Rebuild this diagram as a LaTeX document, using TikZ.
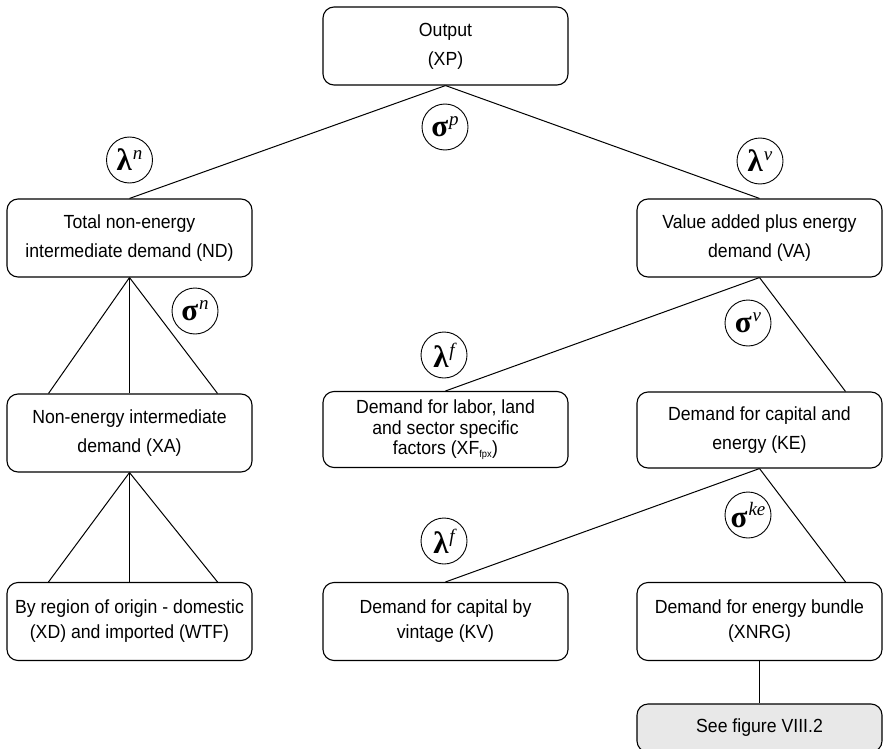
\documentclass[tikz,border=0pt]{standalone}
\usepackage{amsmath}
\usepackage{fontspec}
\setmainfont{Liberation Sans}[FakeStretch=0.93]
\newfontfamily\greekfont{Liberation Serif}
\newcommand{\elasticity}[2]{{\bfseries #1}\kern1pt\raisebox{0.36em}{\fontsize{19}{19}\selectfont\itshape #2}}
\usetikzlibrary{calc}

\begin{document}
\begin{tikzpicture}[x=1pt, y=-1pt,
        box/.style={draw, line width=1.1pt, rounded corners=11pt,
            minimum width=245pt, minimum height=78pt, inner sep=0pt,
            align=center, font=\fontsize{19}{29}\selectfont},
        elas/.style={draw, circle, line width=0.9pt, minimum size=46pt,
            inner sep=0pt, fill=white, font=\greekfont\fontsize{31}{31}\selectfont},
        link/.style={line width=1pt}]

        \useasboundingbox (0,0) rectangle (883,749);

        % 1. 各需要のボックス
        \node[box] (out) at (445.5,46) {Output\\(XP)};
        \node[box] (nd)  at (129.5,238) {Total non-energy\\intermediate demand (ND)};
        \node[box] (va)  at (759.5,238) {Value added plus energy\\demand (VA)};
        \node[box] (xa)  at (129.5,433) {Non-energy intermediate\\demand (XA)};
        \node[box, minimum height=76pt, font=\fontsize{19}{20.5}\selectfont] (lab) at (445.5,429.5)
            {Demand for labor, land\\and sector specific\\factors (XF\textsubscript{\fontsize{10}{10}\selectfont fpx})};
        \node[box, minimum height=76pt] (ke) at (759.5,430) {Demand for capital and\\energy (KE)};
        \node[box, font=\fontsize{19}{25}\selectfont] (reg) at (129.5,621.5)
            {By region of origin - domestic\\(XD) and imported (WTF)};
        \node[box, font=\fontsize{19}{25}\selectfont] (kv)  at (445.5,621.5)
            {Demand for capital by\\vintage (KV)};
        \node[box, font=\fontsize{19}{25}\selectfont] (nrg) at (759.5,621.5)
            {Demand for energy bundle\\(XNRG)};
        \node[box, minimum height=48pt, fill=black!9] (fig) at (759.5,728) {See figure VIII.2};

        % 2. ボックス間の接続線
        \draw[link] (out.south) -- (nd.north);
        \draw[link] (out.south) -- (va.north);
        \foreach \dx in {-81,0,88} {
            \draw[link] (nd.south) -- ($(xa.north)+(\dx,0)$);
            \draw[link] (xa.south) -- ($(reg.north)+(\dx,0)$);
        }
        \draw[link] (va.south) -- (lab.north);
        \draw[link] (va.south) -- ($(ke.north)+(86,0)$);
        \draw[link] (ke.south) -- (kv.north);
        \draw[link] (ke.south) -- ($(nrg.north)+(86,0)$);
        \draw[link] (nrg.south) -- (fig.north);

        % 3. 弾力性パラメータ（丸印）
        \node[elas] (sp)  at (445,127) {\elasticity{σ}{p}};
        \node[elas] (ln)  at (129.5,160) {\elasticity{λ}{n}};
        \node[elas] (lv)  at (760,161) {\elasticity{λ}{v}};
        \node[elas] (sn)  at (195,311) {\elasticity{σ}{n}};
        \node[elas] (sv)  at (748,323) {\elasticity{σ}{v}};
        \node[elas] (lf)  at (444,355) {\elasticity{λ}{f}};
        \node[elas] (ske) at (748,515) {\elasticity{σ}{ke}};
        \node[elas] (lfk) at (444,541) {\elasticity{λ}{f}};
    \end{tikzpicture}
\end{document}
